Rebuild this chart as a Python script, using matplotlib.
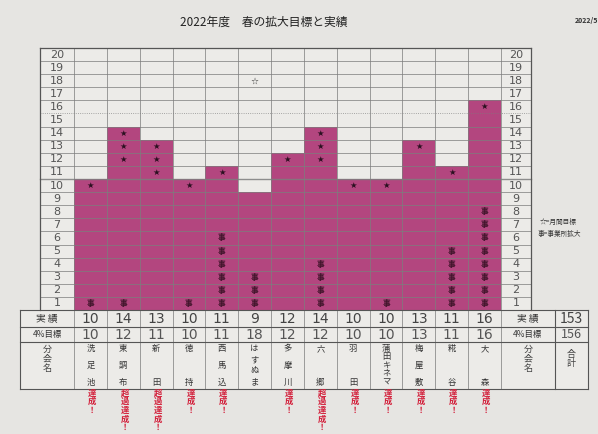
import matplotlib
matplotlib.use("Agg")
import matplotlib.pyplot as plt
from matplotlib.patches import Rectangle

plt.rcParams['font.family'] = ['Noto Sans CJK JP', 'DejaVu Sans']

# data
branches = ['洗足池', '東調布', '新田', '徳持', '西馬込', 'はすぬま', '多摩川',
            '六郷', '羽田', '蒲田キネマ', '梅屋敷', '糀谷', '大森']
actual = [10, 14, 13, 10, 11, 9, 12, 14, 10, 10, 13, 11, 16]
target = [10, 12, 11, 10, 11, 18, 12, 12, 10, 10, 13, 11, 16]
jigyo = [1, 1, 0, 1, 6, 3, 0, 4, 0, 1, 0, 5, 8]  # 事業所拡大
result = ['達成！', '超過達成！', '超過達成！', '達成！', '達成！', '', '達成！',
          '超過達成！', '達成！', '達成！', '達成！', '達成！', '達成！']
total_actual = 153
total_target = 156
rows = list(range(1, 21))

W, H = 598, 434
PAPER = '#e6e5e2'
CELL = '#ecebe8'
MAG = '#b3467f'
LINE = '#7d7d7d'
RED = '#d3213c'

fig = plt.figure(figsize=(W / 100, H / 100), dpi=100, facecolor=PAPER)
ax = fig.add_axes([74 / W, 1 - 310 / H, 427 / W, 262 / H])
ax.set_xlim(-0.5, 12.5)
ax.set_ylim(0, 20)
ax.set_facecolor(CELL)
for s in ax.spines.values():
    s.set_visible(False)
ax.set_xticks([])
ax.set_yticks([])

n = len(branches)
xs = list(range(n))
ax.bar(xs, actual, width=1.0, color=MAG, linewidth=0, zorder=1)

# column geometry outside the grid (in data units)
L_ROW = -1.535          # left row-number column
L_TAB = -2.144          # left edge of lower table
R_ROW = 13.41           # right row-number column
R_LAB = 14.14           # right lower table label/value split
R_END = 15.15
Y_ACT, Y_TGT, Y_NAME = -1.3, -2.45, -6.0

kw = dict(clip_on=False, zorder=3)
# side columns background
ax.add_patch(Rectangle((L_ROW, 0), -0.5 - L_ROW, 20, facecolor=CELL, edgecolor='none', clip_on=False, zorder=0))
ax.add_patch(Rectangle((12.5, 0), R_ROW - 12.5, 20, facecolor=CELL, edgecolor='none', clip_on=False, zorder=0))
ax.add_patch(Rectangle((L_TAB, Y_NAME), R_END - L_TAB, -Y_NAME, facecolor=CELL, edgecolor='none', clip_on=False, zorder=0))

# grid lines
for r in range(0, 21):
    lw, ls = 0.6, '-'
    if r == 10:
        lw = 1.0
    if r == 15:
        ls = ':'
    ax.plot([L_ROW, R_ROW], [r, r], color=LINE, lw=lw, ls=ls, alpha=0.85, **kw)
for c in range(n + 1):
    ax.plot([c - 0.5, c - 0.5], [Y_NAME, 20], color=LINE, lw=0.6, alpha=0.85, **kw)
ax.plot([L_ROW, L_ROW], [0, 20], color='#555', lw=0.9, **kw)
ax.plot([R_ROW, R_ROW], [0, 20], color='#555', lw=0.9, **kw)
ax.plot([L_ROW, R_ROW], [20, 20], color='#555', lw=0.9, **kw)

# lower table lines
for y in [0, Y_ACT, Y_TGT, Y_NAME]:
    ax.plot([L_TAB, R_END], [y, y], color='#555', lw=0.8, **kw)
for x in [L_TAB, R_LAB, R_END]:
    ax.plot([x, x], [Y_NAME, 0], color='#555', lw=0.8, **kw)

# row numbers
for r in rows:
    ax.text((L_ROW - 0.5) / 2, r - 0.5, str(r), ha='center', va='center',
            fontsize=8, color='#555', family='DejaVu Sans')
    ax.text((12.5 + R_ROW) / 2, r - 0.5, str(r), ha='center', va='center',
            fontsize=8, color='#555', family='DejaVu Sans')

# stars and 事 marks
for i in xs:
    if actual[i] >= target[i]:
        for r in range(target[i], actual[i] + 1):
            ax.text(i, r - 0.5, '★', ha='center', va='center', fontsize=6,
                    color='#2a1020', family='DejaVu Sans', zorder=4)
    else:
        ax.text(i, target[i] - 0.5, '☆', ha='center', va='center', fontsize=6.5,
                color='#333', family='DejaVu Sans', zorder=4)
    for r in range(1, jigyo[i] + 1):
        ax.text(i, r - 0.5, '事', ha='center', va='center', fontsize=5.5,
                color='#3a1226', fontweight='bold', zorder=4)

# lower table contents
lab_x = (L_TAB - 0.5) / 2
ax.text(lab_x, Y_ACT / 2, '実 績', ha='center', va='center', fontsize=7, color='#333')
ax.text(lab_x, (Y_ACT + Y_TGT) / 2, '4%目標', ha='center', va='center', fontsize=6, color='#333')
ax.text(lab_x, Y_TGT - 1.3, '分\n会\n名', ha='center', va='center', fontsize=6.5,
        color='#444', linespacing=1.1)
rx = (12.5 + R_LAB) / 2
vx = (R_LAB + R_END) / 2
ax.text(rx, Y_ACT / 2, '実 績', ha='center', va='center', fontsize=7, color='#333')
ax.text(rx, (Y_ACT + Y_TGT) / 2, '4%目標', ha='center', va='center', fontsize=6, color='#333')
ax.text(vx, Y_ACT / 2, str(total_actual), ha='center', va='center', fontsize=10, color='#444')
ax.text(vx, (Y_ACT + Y_TGT) / 2, str(total_target), ha='center', va='center', fontsize=9, color='#555')
ax.text(rx, Y_TGT - 1.3, '分\n会\n名', ha='center', va='center', fontsize=6.5,
        color='#444', linespacing=1.1)
ax.text(vx, Y_TGT - 1.3, '合\n計', ha='center', va='center', fontsize=6.5,
        color='#444', linespacing=1.1)

for i in xs:
    ax.text(i, Y_ACT / 2, str(actual[i]), ha='center', va='center', fontsize=10,
            color='#444', family='DejaVu Sans')
    ax.text(i, (Y_ACT + Y_TGT) / 2, str(target[i]), ha='center', va='center',
            fontsize=10, color='#555', family='DejaVu Sans')
    name = branches[i]
    k = len(name)
    top, bot = Y_TGT - 0.5, Y_NAME + 0.5
    for j, ch in enumerate(name):
        y = top - (top - bot) * j / (k - 1) if k > 1 else (top + bot) / 2
        ax.text(i, y, ch, ha='center', va='center', fontsize=6, color='#333')
    for j, ch in enumerate(result[i]):
        ax.text(i + 0.05, Y_NAME - 0.35 - 0.66 * j, ch, ha='center', va='center',
                fontsize=6, color=RED, fontweight='bold')

# title, date, legend
fig.text(264 / W, 1 - 22 / H, '2022年度　春の拡大目標と実績', ha='center', va='center',
         fontsize=8.5, color='#222')
fig.text(575 / W, 1 - 20 / H, '2022/5', ha='left', va='center', fontsize=5,
         color='#333', fontweight='bold', style='italic')
fig.text(540 / W, 1 - 222 / H, '☆=月間目標', ha='left', va='center', fontsize=4.8, color='#333')
fig.text(538 / W, 1 - 234 / H, '事=事業所拡大', ha='left', va='center', fontsize=4.8, color='#333')

fig.savefig('out.png', dpi=100, facecolor=PAPER)
